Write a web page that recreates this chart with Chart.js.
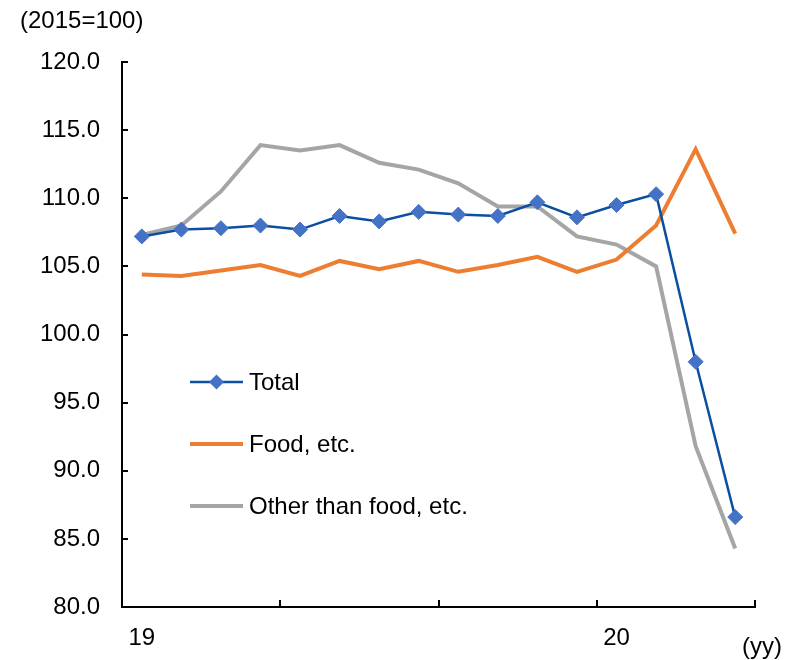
<!DOCTYPE html>
<html>
<head>
<meta charset="utf-8">
<script src="https://cdn.jsdelivr.net/npm/chart.js@4/dist/chart.umd.min.js"></script>
<style>
  html, body { margin: 0; padding: 0; background: #fff; }
  #wrap { width: 789px; height: 660px; position: relative; }
</style>
</head>
<body>
<div id="wrap"><canvas id="c" width="789" height="660"></canvas></div>
<script>
// Months Jan 2019 .. Apr 2020
const months = ['2019-01','2019-02','2019-03','2019-04','2019-05','2019-06','2019-07','2019-08','2019-09','2019-10','2019-11','2019-12','2020-01','2020-02','2020-03','2020-04'];
const xTickLabels = ['19','','','','','','','','','','','','20','','',''];
const totalValues = [107.2, 107.7, 107.8, 108.0, 107.7, 108.7, 108.3, 109.0, 108.8, 108.7, 109.7, 108.6, 109.5, 110.3, 98.0, 86.6];
const foodValues  = [104.4, 104.3, 104.7, 105.1, 104.3, 105.4, 104.8, 105.4, 104.6, 105.1, 105.7, 104.6, 105.5, 108.0, 113.6, 107.4];
const otherValues = [107.3, 108.0, 110.5, 113.9, 113.5, 113.9, 112.6, 112.1, 111.1, 109.4, 109.4, 107.2, 106.6, 105.0, 91.8, 84.3];
const seriesNames = ['Total', 'Food, etc.', 'Other than food, etc.'];
const yMin = 80, yMax = 120, yStep = 5;
const xMajorEvery = 4;

const FONT = '"Liberation Sans", Arial, sans-serif';
const FS = 24;

const extras = {
  id: 'extras',
  afterDraw(chart) {
    const ctx = chart.ctx;
    const x = chart.scales.x, y = chart.scales.y;
    ctx.save();
    ctx.strokeStyle = '#000';
    ctx.lineWidth = 2;
    // y tick marks (inside)
    for (let v = yMin; v <= yMax; v += yStep) {
      const py = Math.round(y.getPixelForValue(v));
      ctx.beginPath();
      ctx.moveTo(x.left, py);
      ctx.lineTo(x.left + 6, py);
      ctx.stroke();
    }
    // x tick marks at category boundaries
    const n = months.length;
    const step = (x.right - x.left) / n;
    for (let i = 0; i <= n; i += xMajorEvery) {
      const px = Math.round(x.left + i * step);
      ctx.beginPath();
      ctx.moveTo(px, y.bottom);
      ctx.lineTo(px, y.bottom - 7);
      ctx.stroke();
    }
    // unit labels
    ctx.fillStyle = '#000';
    ctx.font = FS + 'px ' + FONT;
    ctx.textBaseline = 'middle';
    ctx.textAlign = 'left';
    ctx.fillText('(2015=100)', 20, 21);
    ctx.fillText('(yy)', 742, 647);

    // legend
    const items = chart.data.datasets;
    const ly0 = 382, lgap = 62, lx0 = 190, lx1 = 243;
    items.forEach((ds, i) => {
      const ly = ly0 + i * lgap;
      ctx.strokeStyle = ds.borderColor;
      ctx.lineWidth = ds.borderWidth;
      ctx.beginPath();
      ctx.moveTo(lx0, ly);
      ctx.lineTo(lx1, ly);
      ctx.stroke();
      if (ds.pointRadius > 0) {
        const cx = (lx0 + lx1) / 2, r = ds.pointRadius;
        ctx.fillStyle = ds.pointBackgroundColor;
        ctx.beginPath();
        ctx.moveTo(cx, ly - r);
        ctx.lineTo(cx + r, ly);
        ctx.lineTo(cx, ly + r);
        ctx.lineTo(cx - r, ly);
        ctx.closePath();
        ctx.fill();
      }
      ctx.fillStyle = '#000';
      ctx.font = FS + 'px ' + FONT;
      ctx.textAlign = 'left';
      ctx.textBaseline = 'middle';
      ctx.fillText(ds.label, 249, ly + 1);
    });
    ctx.restore();
  }
};

new Chart(document.getElementById('c'), {
  type: 'line',
  data: {
    labels: months,
    datasets: [
      {
        label: seriesNames[0], data: totalValues,
        borderColor: '#0B4EA2', borderWidth: 2.5,
        pointStyle: 'rectRot', pointRadius: 7.5,
        pointBackgroundColor: '#4472C4', pointBorderColor: '#4472C4', pointBorderWidth: 1,
        tension: 0, order: 0
      },
      {
        label: seriesNames[1], data: foodValues,
        borderColor: '#ED7D31', borderWidth: 4, pointRadius: 0,
        tension: 0, order: 1
      },
      {
        label: seriesNames[2], data: otherValues,
        borderColor: '#A5A5A5', borderWidth: 4, pointRadius: 0,
        tension: 0, order: 2
      }
    ]
  },
  options: {
    responsive: false,
    animation: false,
    events: [],
    layout: { padding: { left: 0, right: 34, top: 62, bottom: 0 } },
    plugins: { legend: { display: false }, tooltip: { enabled: false }, title: { display: false } },
    scales: {
      x: {
        type: 'category',
        offset: true,
        grid: { display: false, drawTicks: false },
        border: { display: true, color: '#000', width: 2 },
        ticks: {
          autoSkip: false, maxRotation: 0, minRotation: 0, padding: 17,
          color: '#000', font: { family: FONT, size: FS },
          callback: (v, i) => xTickLabels[i]
        },
        afterFit: (s) => { s.height = 53; }
      },
      y: {
        min: yMin, max: yMax,
        grid: { display: false, drawTicks: false },
        border: { display: true, color: '#000', width: 2 },
        ticks: {
          stepSize: yStep, padding: 22, color: '#000',
          font: { family: FONT, size: FS },
          callback: (v) => v.toFixed(1)
        },
        afterFit: (s) => { s.width = 122; }
      }
    }
  },
  plugins: [extras]
});
</script>
</body>
</html>
